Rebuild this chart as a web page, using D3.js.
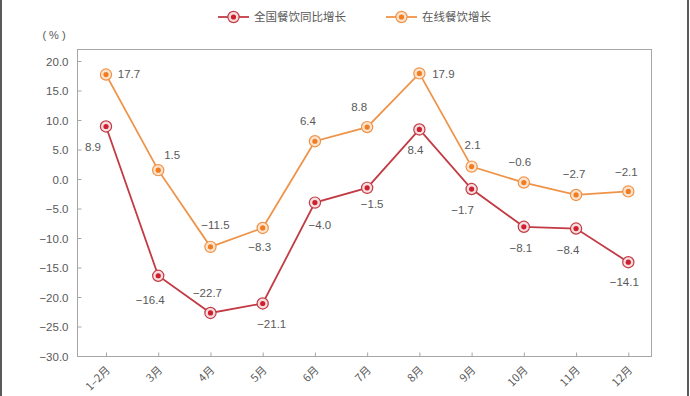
<!DOCTYPE html>
<html>
<head>
<meta charset="utf-8">
<script src="https://cdn.jsdelivr.net/npm/d3@7"></script>
<style>
  body { margin: 0; background: #fff; }
  svg { display: block; }
  text { font-family: "Liberation Sans", Arial, "Noto Sans CJK SC", sans-serif; fill: #595959; }
  .cjk { font-family: "Noto Sans CJK SC", sans-serif; }
</style>
</head>
<body>
<div id="chart"></div>
<script>
// data
var months = ["1\u20132月", "3月", "4月", "5月", "6月", "7月", "8月", "9月", "10月", "11月", "12月"];
var nationalGrowth = [8.9, -16.4, -22.7, -21.1, -4.0, -1.5, 8.4, -1.7, -8.1, -8.4, -14.1];
var onlineGrowth   = [17.7, 1.5, -11.5, -8.3, 6.4, 8.8, 17.9, 2.1, -0.6, -2.7, -2.1];
var yTicks = [20, 15, 10, 5, 0, -5, -10, -15, -20, -25, -30];
var seriesNames = ["全国餐饮同比增长", "在线餐饮增长"];

var width = 690, height = 396;
var frame = {left: 77, top: 49, right: 651, bottom: 356};

var svg = d3.select("#chart").append("svg")
	.attr("width", width)
	.attr("height", height);

// page edges
svg.append("rect").attr("x", 0).attr("y", 0).attr("width", 2).attr("height", height).attr("fill", "#5a5a5a");
svg.append("rect").attr("x", 687).attr("y", 0).attr("width", 2).attr("height", height).attr("fill", "#5a5a5a");

var x = d3.scalePoint()
	.domain(months)
	.range([106, 628.3]);

var y = d3.scaleLinear()
	.domain([-30, 20])
	.range([frame.bottom, 61]);

var fmt = d3.format(".1f");

// frame
svg.append("rect")
	.attr("x", frame.left + 0.5)
	.attr("y", frame.top + 0.5)
	.attr("width", frame.right - frame.left)
	.attr("height", frame.bottom - frame.top)
	.attr("fill", "none")
	.attr("stroke", "#a6a6a6")
	.attr("stroke-width", 1);

// y axis, ticks pointing inward
var yAxis = svg.append("g")
	.attr("transform", "translate(" + (frame.left + 0.5) + ",0)")
	.call(d3.axisRight(y).tickValues(yTicks).tickSize(4).tickFormat(fmt));
yAxis.select(".domain").remove();
yAxis.selectAll("line").attr("stroke", "#a6a6a6");
yAxis.selectAll("text")
	.attr("x", -9)
	.attr("text-anchor", "end")
	.attr("dy", "0.35em")
	.style("font-size", "11.5px")
	.style("fill", "#595959");

// x axis, ticks pointing up
var xAxis = svg.append("g")
	.attr("transform", "translate(0," + (frame.bottom + 0.5) + ")")
	.call(d3.axisTop(x).tickSize(4).tickFormat(""));
xAxis.select(".domain").remove();
xAxis.selectAll("line").attr("stroke", "#a6a6a6");

svg.append("g").selectAll("text")
	.data(months)
	.join("text")
	.attr("class", "cjk")
	.attr("transform", function(d) { return "translate(" + (x(d) + 2) + "," + (frame.bottom + 12) + ")rotate(-45)"; })
	.attr("text-anchor", "end")
	.attr("dy", "0.35em")
	.style("font-size", "11px")
	.text(function(d) { return d; });

svg.append("text")
	.attr("x", 54)
	.attr("y", 35)
	.attr("text-anchor", "middle")
	.attr("dy", "0.35em")
	.style("font-size", "11px")
	.text("( % )");

var series = [
	{name: seriesNames[0], values: nationalGrowth, line: "#c23b44", dot: "#d0202e", halo: "#f6dde0",
	 // label offsets from each point: [dx, dy]
	 offs: [[-13, 20], [-8, 24], [-3, -20], [9, 20], [5, 22], [5, 16], [-4, 21], [-9, 21], [-3, 21], [-8, 21], [-4, 20]]},
	{name: seriesNames[1], values: onlineGrowth, line: "#ef9348", dot: "#f07d22", halo: "#fde3cc",
	 offs: [[23, -1], [14, -15], [5, -22], [-3, 19], [-7, -20], [-8, -20], [24, 1], [1, -22], [-4, -21], [-2, -21], [-2, -19]]}
];

var line = d3.line()
	.x(function(d, i) { return x(months[i]); })
	.y(function(d) { return y(d); });

series.forEach(function(s) {
	svg.append("path")
		.datum(s.values)
		.attr("d", line)
		.attr("fill", "none")
		.attr("stroke", s.line)
		.attr("stroke-width", 1.8);
});

series.forEach(function(s) {
	var g = svg.append("g");
	var pts = g.selectAll("g")
		.data(s.values)
		.join("g")
		.attr("transform", function(d, i) { return "translate(" + x(months[i]) + "," + y(d) + ")"; });
	pts.append("circle").attr("r", 5.6).attr("fill", s.halo).attr("stroke", s.line).attr("stroke-width", 1.2);
	pts.append("circle").attr("r", 2.6).attr("fill", s.dot);

	g.selectAll("text.lbl")
		.data(s.values)
		.join("text")
		.attr("class", "lbl")
		.attr("x", function(d, i) { return x(months[i]) + s.offs[i][0]; })
		.attr("y", function(d, i) { return y(d) + s.offs[i][1]; })
		.attr("text-anchor", "middle")
		.attr("dy", "0.35em")
		.style("font-size", "11.5px")
		.text(function(d) { return fmt(d); });
});

// legend
var legend = svg.append("g");
var legendX = [218, 386];
series.forEach(function(s, i) {
	var lg = legend.append("g").attr("transform", "translate(" + legendX[i] + ",17)");
	lg.append("line").attr("x1", 0).attr("x2", 31).attr("stroke", s.line).attr("stroke-width", 1.8);
	lg.append("circle").attr("cx", 15.5).attr("r", 5.6).attr("fill", s.halo).attr("stroke", s.line).attr("stroke-width", 1.2);
	lg.append("circle").attr("cx", 15.5).attr("r", 2.6).attr("fill", s.dot);
	lg.append("text")
		.attr("class", "cjk")
		.attr("x", 36)
		.attr("dy", "0.35em")
		.style("font-size", "11.5px")
		.text(s.name);
});
</script>
</body>
</html>
